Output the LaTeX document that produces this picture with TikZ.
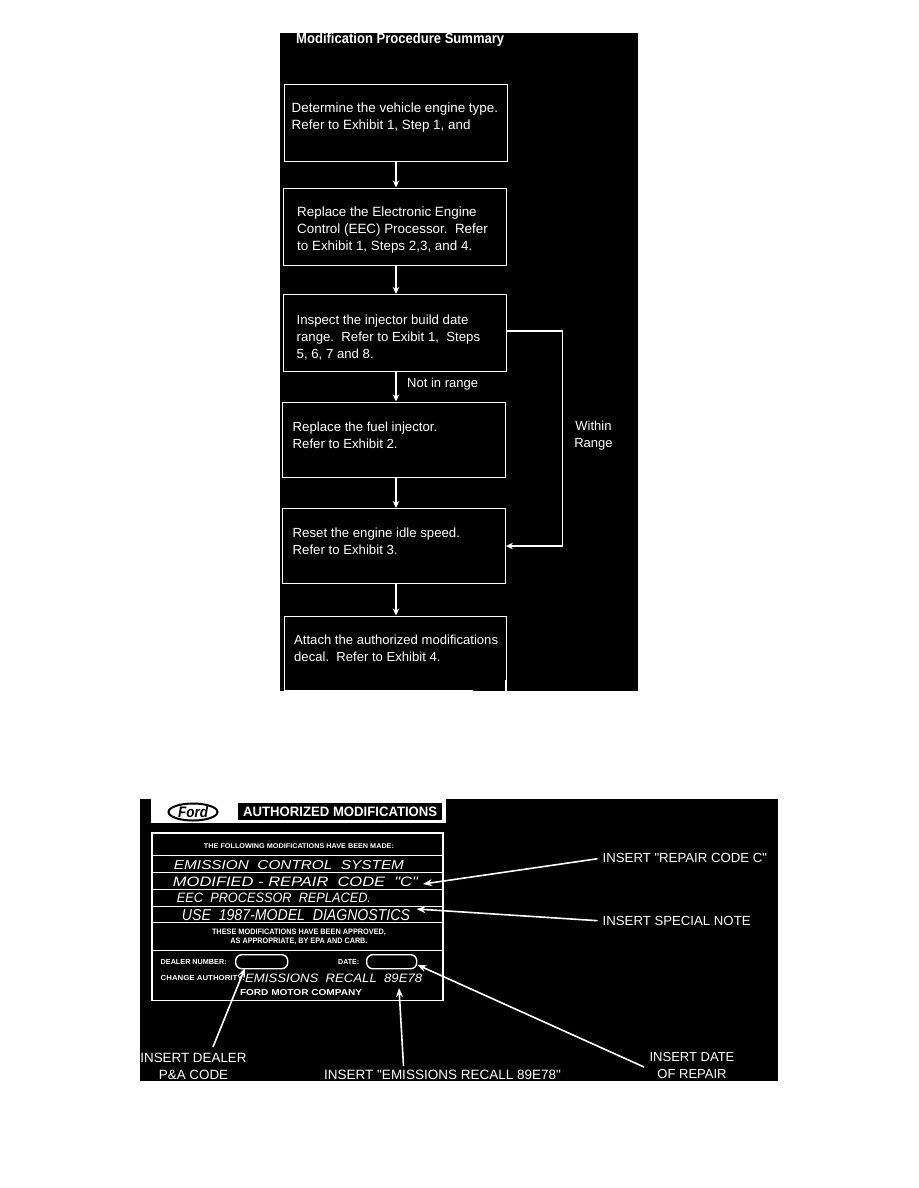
\documentclass[tikz,border=0pt]{standalone}
\usepackage{fontspec}
\usepackage{graphicx}
\setmainfont{Liberation Sans}
% A face without TeX ligature mapping, so that " stays a straight quote
\newfontfamily\plainquotes{Liberation Sans}
\usetikzlibrary{arrows.meta,shapes.geometric}

% Fixed-size lettering: width, height, text
\newcommand{\fitted}[3]{\resizebox{#1pt}{#2pt}{#3}}

\tikzset{
  flowbox/.style={draw=white, line width=1.4pt, fill=black, anchor=north west, inner sep=0pt},
  flowtext/.style={text=white, anchor=north west, align=left, inner sep=0pt,
    font=\fontsize{13.4}{17}\selectfont},
  flowlabel/.style={text=white, inner sep=0pt, font=\fontsize{13}{17}\selectfont},
  flowarrow/.style={draw=white, line width=1.3pt, -{Stealth[length=7pt,width=6.5pt,fill=white]}},
  decalrule/.style={draw=white, line width=0.9pt},
  pointer/.style={draw=white, line width=1.6pt, -{Stealth[length=9pt,width=7pt,fill=white]}},
  calllabel/.style={text=white, inner sep=0pt, font=\plainquotes\fontsize{13.2}{17}\selectfont},
  plate/.style={text=white, inner sep=0pt, font=\bfseries},
  script/.style={text=white, inner sep=0pt, font=\plainquotes\itshape},
  blank/.style={draw=white, line width=1.4pt, fill=black, rounded corners=6pt, anchor=north west, inner sep=0pt}
}

\begin{document}
\begin{tikzpicture}[x=1pt,y=-1pt]
\useasboundingbox (0,0) rectangle (918,1188);

% ---- Flow chart panel ----
\fill[black] (280,33) rectangle (638,691);
\node[text=white, inner sep=0pt, anchor=west, font=\bfseries] (title) at (296,39.5)
  {\fitted{208}{10.5}{Modification Procedure Summary}};

\node[flowbox, minimum width=223pt, minimum height=77pt] (b1) at (283.5,84) {};
\node[flowbox, minimum width=223pt, minimum height=77pt] (b2) at (283,187.5) {};
\node[flowbox, minimum width=223pt, minimum height=77pt] (b3) at (283,294) {};
\node[flowbox, minimum width=223pt, minimum height=75.5pt] (b4) at (282,401.5) {};
\node[flowbox, minimum width=223pt, minimum height=75pt] (b5) at (281.5,508) {};
\node[flowbox, minimum width=222.5pt, minimum height=74pt] (b6) at (283.5,615.5) {};

% The last box's lower edge stops short of its right side
\coordinate (edgeGap) at (473,687.5);
\coordinate (gapEnd) at (504.6,691);
\coordinate (sideTop) at (505.3,680);
\coordinate (sideFoot) at (505.3,691);
\fill[black] (edgeGap) rectangle (gapEnd);
\draw[draw=white, line width=1.4pt] (sideTop) -- (sideFoot);

\node[flowtext] (t1) at (291.5,103) {Determine the vehicle engine type.\\Refer to Exhibit 1, Step 1, and};
\node[flowtext] (t2) at (297,207) {Replace the Electronic Engine\\Control (EEC) Processor.\ \ Refer\\to Exhibit 1, Steps 2,3, and 4.};
\node[flowtext, font=\fontsize{13.2}{17}\selectfont] (t3) at (296.5,315) {Inspect the injector build date\\range.\ \ Refer to Exibit 1,\ \ Steps\\5, 6, 7 and 8.};
\node[flowtext, font=\fontsize{13.2}{17}\selectfont] (t4) at (292.5,422) {Replace the fuel injector.\\Refer to Exhibit 2.};
\node[flowtext, font=\fontsize{13.2}{17}\selectfont] (t5) at (292.5,527.5) {Reset the engine idle speed.\\Refer to Exhibit 3.};
\node[flowtext, font=\fontsize{13.1}{17}\selectfont] (t6) at (294,635) {Attach the authorized modifications\\decal.\ \ Refer to Exhibit 4.};

% Down arrows share one column
\coordinate (col) at (396,0);
\draw[flowarrow] (b1.south -| col) -- (b2.north -| col);
\draw[flowarrow] (b2.south -| col) -- (b3.north -| col);
\draw[flowarrow] (b3.south -| col) -- (b4.north -| col);
\draw[flowarrow] (b4.south -| col) -- (b5.north -| col);
\draw[flowarrow] (b5.south -| col) -- (b6.north -| col);

\coordinate (routeA) at (562.5,331);
\coordinate (routeB) at (562.5,546);
\draw[flowarrow] (b3.east |- routeA) -- (routeA) -- (routeB) -- (b5.east |- routeB);

\node[flowlabel, anchor=west] (notin) at (407,384.5) {Not in range};
\node[flowlabel, align=center] (within) at (593.5,435.5) {Within\\Range};

% ---- Decal panel ----
\fill[black] (140,799) rectangle (778,1081);
\fill[white] (150.5,799) rectangle (446,823);
\node[fill=black, minimum width=204pt, minimum height=17pt, inner sep=0pt, anchor=north west] (head) at (238,803)
  {\fitted{194}{9.5}{\textcolor{white}{\bfseries AUTHORIZED MODIFICATIONS}}};

% Ford oval
\node[draw=black, line width=2pt, fill=white, shape=ellipse, minimum width=49pt, minimum height=17pt, inner sep=0pt] (oval) at (193,812)
  {\fitted{30}{11}{\bfseries\itshape Ford}};

% Decal plate
\draw[draw=white, line width=1.8pt] (152,833) rectangle (443,1000.5);
\coordinate (pl) at (152,833);
\coordinate (pr) at (443,833);
\foreach \ypos in {855.5,872.5,889.5,906,922,950.5}
  \draw[decalrule] (pl |- 0,\ypos) -- (pr |- 0,\ypos);

\node[plate] (p1) at (299,846) {\fitted{190}{4.8}{THE FOLLOWING MODIFICATIONS HAVE BEEN MADE:}};
\node[script] (h1) at (289,865) {\fitted{230}{9}{EMISSION\ \ CONTROL\ \ SYSTEM}};
\node[script] (h2) at (295.5,882) {\fitted{245}{9.5}{MODIFIED - REPAIR\ \ CODE\ \ "C"}};
\node[script] (h3) at (274,897.5) {\fitted{194}{9.5}{EEC\ \ PROCESSOR\ \ REPLACED.}};
\node[script] (h4) at (296,915) {\fitted{228}{11}{USE\ \ 1987-MODEL\ \ DIAGNOSTICS}};
\node[plate] (p2) at (299,932.5) {\fitted{174}{5.5}{THESE MODIFICATIONS HAVE BEEN APPROVED,}};
\node[plate] (p3) at (299,941) {\fitted{137}{5.5}{AS APPROPRIATE, BY EPA AND CARB.}};

\node[plate, anchor=west] (p4) at (160.5,962) {\fitted{66}{5}{DEALER NUMBER:}};
\node[plate, anchor=west] (p5) at (338,962) {\fitted{21}{5}{DATE:}};
\node[blank, minimum width=52pt, minimum height=14pt] (dealer) at (235,954) {};
\node[blank, minimum width=50pt, minimum height=14pt] (date) at (366,954) {};

\node[plate, anchor=west] (p6) at (160.5,978) {\fitted{84}{5}{CHANGE AUTHORITY:}};
\node[script, anchor=west] (h5) at (245,978) {\fitted{177}{8.5}{EMISSIONS\ \ RECALL\ \ 89E78}};
\node[plate] (p7) at (301,993) {\fitted{122}{6}{FORD MOTOR COMPANY}};

% Call-outs
\node[calllabel, anchor=west] (c1) at (602.5,858) {INSERT "REPAIR CODE C"};
\node[calllabel, anchor=west] (c2) at (602.5,921) {INSERT SPECIAL NOTE};
\node[calllabel, align=center, anchor=north, font=\fontsize{13}{17}\selectfont] (c3) at (692,1052.5) {INSERT DATE\\OF REPAIR};
\node[calllabel, anchor=west, font=\plainquotes\fontsize{13.5}{17}\selectfont] (c5) at (324,1075) {INSERT "EMISSIONS RECALL 89E78"};
\begin{scope}
  \clip (140,799) rectangle (778,1081);
  \node[calllabel, align=center, anchor=north, font=\fontsize{13.4}{17}\selectfont] (c4) at (193.5,1053) {INSERT DEALER\\P\&A CODE};
\end{scope}

\coordinate (tipC) at (423,884);
\coordinate (tipN) at (416.5,909);
\coordinate (tipE) at (399,988);
\coordinate (tipD) at (245,968);
\coordinate (tailR) at (644,1067);
\coordinate (tailD) at (213,1047);
\coordinate (tailE) at (403.5,1066);
\draw[pointer, shorten <=5pt] (c1.west) -- (tipC);
\draw[pointer, shorten <=5pt] (c2.west) -- (tipN);
\draw[pointer] (tailR) -- (date.-7);
\draw[pointer] (tailD) -- (tipD);
\draw[pointer] (tailE) -- (tipE);
\end{tikzpicture}
\end{document}
